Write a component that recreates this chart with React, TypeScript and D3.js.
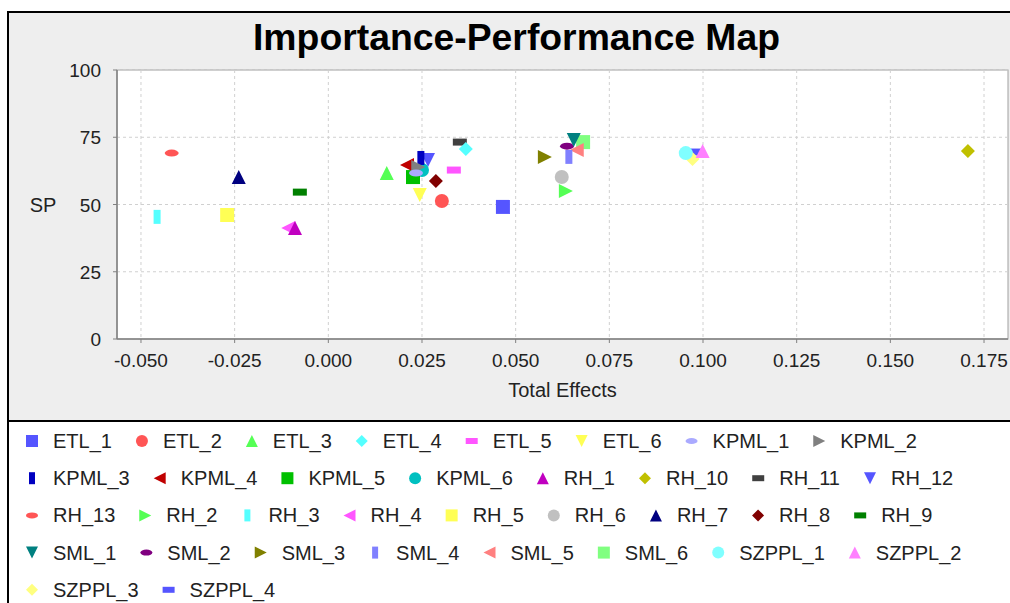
import React, { useMemo } from "react";
import * as d3 from "d3";

const seriesNames = [
  "ETL_1", "ETL_2", "ETL_3", "ETL_4", "ETL_5", "ETL_6",
  "KPML_1", "KPML_2", "KPML_3", "KPML_4", "KPML_5", "KPML_6",
  "RH_1", "RH_10", "RH_11", "RH_12", "RH_13", "RH_2", "RH_3", "RH_4",
  "RH_5", "RH_6", "RH_7", "RH_8", "RH_9",
  "SML_1", "SML_2", "SML_3", "SML_4", "SML_5", "SML_6",
  "SZPPL_1", "SZPPL_2", "SZPPL_3", "SZPPL_4",
];

const totalEffects = [
  0.0466, 0.0303, 0.0156, 0.0367, 0.0335, 0.0244,
  0.0234, 0.024, 0.0247, 0.021, 0.0226, 0.025,
  -0.0089, 0.1707, 0.0351, 0.0266, -0.0418, 0.0634, -0.0457, -0.0107,
  -0.027, 0.0623, -0.0239, 0.0287, -0.0076,
  0.0655, 0.0637, 0.0578, 0.0642, 0.0663, 0.068,
  0.0954, 0.0999, 0.0972, 0.0981,
];

const performance = [
  49.1, 51.3, 61.7, 70.6, 62.8, 53.5,
  61.7, 63.9, 67.3, 64.7, 60.2, 62.8,
  41.3, 69.9, 73.2, 66.5, 69.1, 55.0, 45.4, 41.3,
  46.1, 60.2, 60.2, 58.7, 54.6,
  74.0, 71.7, 67.7, 67.7, 70.3, 73.2,
  69.1, 69.9, 66.9, 69.5,
];

const seriesColors = [
  "#5555FF", "#FF5555", "#55FF55", "#55FFFF", "#FF55FF", "#FFFF55",
  "#AAAAFF", "#808080", "#0000C0", "#C00000", "#00C000", "#00C0C0",
  "#C000C0", "#C0C000", "#404040", "#5555FF", "#FF5555", "#55FF55", "#55FFFF", "#FF55FF",
  "#FFFF55", "#C0C0C0", "#000080", "#800000", "#008000",
  "#008080", "#800080", "#808000", "#8080FF", "#FF8080", "#80FF80",
  "#80FFFF", "#FF80FF", "#FFFF80", "#5555FF",
];

// JFreeChart default shape sequence
const shapeSequence = [
  "square", "circle", "upTriangle", "diamond", "hRect",
  "downTriangle", "hEllipse", "rightTriangle", "vRect", "leftTriangle",
];

const xTicks = [-0.05, -0.025, 0, 0.025, 0.05, 0.075, 0.1, 0.125, 0.15, 0.175];
const yTicks = [0, 25, 50, 75, 100];

const titleText = "Importance-Performance Map";
const xLabel = "Total Effects";
const yLabel = "SP";

function shapePath(type: string, s: number): string {
  const d = s / 2;
  switch (type) {
    case "square":
      return `M${-d},${-d}H${d}V${d}H${-d}Z`;
    case "circle":
      return `M${-d},0A${d},${d} 0 1,0 ${d},0A${d},${d} 0 1,0 ${-d},0Z`;
    case "upTriangle":
      return `M0,${-d}L${d},${d}L${-d},${d}Z`;
    case "diamond":
      return `M0,${-d}L${d},0L0,${d}L${-d},0Z`;
    case "hRect":
      return `M${-d},${-d / 2}H${d}V${d / 2}H${-d}Z`;
    case "downTriangle":
      return `M${-d},${-d}L${d},${-d}L0,${d}Z`;
    case "hEllipse":
      return `M${-d},0A${d},${d / 2} 0 1,0 ${d},0A${d},${d / 2} 0 1,0 ${-d},0Z`;
    case "rightTriangle":
      return `M${-d},${-d}L${d},0L${-d},${d}Z`;
    case "vRect":
      return `M${-d / 2},${-d}H${d / 2}V${d}H${-d / 2}Z`;
    case "leftTriangle":
      return `M${-d},0L${d},${-d}L${d},${d}Z`;
    default:
      return "";
  }
}

const FONT = "'Liberation Sans', Arial, Helvetica, sans-serif";

export default function App() {
  const W = 1010;
  const H = 603;
  const plot = { left: 117, right: 1008, top: 70, bottom: 339 };

  const x = d3
    .scaleLinear()
    .domain([-0.0564, 0.1814])
    .range([plot.left, plot.right]);
  const y = d3.scaleLinear().domain([0, 100]).range([plot.bottom, plot.top]);

  const legendFontSize = 20;
  const legendItems = useMemo(() => {
    const canvas = document.createElement("canvas");
    const ctx = canvas.getContext("2d")!;
    ctx.font = `${legendFontSize}px ${FONT}`;
    const startX = 26;
    const maxX = 1000;
    const rowY0 = 441;
    const rowGap = 37.2;
    let cx = startX;
    let row = 0;
    const items: { i: number; x: number; y: number }[] = [];
    seriesNames.forEach((name, i) => {
      const tw = ctx.measureText(name).width;
      const itemW = 27 + tw;
      if (cx + itemW > maxX && cx !== startX) {
        row += 1;
        cx = startX;
      }
      items.push({ i, x: cx, y: rowY0 + row * rowGap });
      cx += itemW + 24;
    });
    return items;
  }, []);

  // JFreeChart renders series in reverse order: first series ends on top
  const drawOrder = d3.range(seriesNames.length).reverse();

  return (
    <div style={{ position: "absolute", left: 0, top: 0 }}>
      <svg width={W} height={H} style={{ display: "block" }}>
        <rect x={0} y={0} width={W} height={H} fill="#FFFFFF" />
        {/* chart panel */}
        <rect x={8} y={12} width={1030} height={409} fill="#EEEEEE" stroke="#000" strokeWidth={2} />
        {/* legend panel */}
        <rect x={8} y={421} width={1030} height={220} fill="#FFFFFF" stroke="#000" strokeWidth={2} />

        {/* title */}
        <text
          x={516.5}
          y={50}
          textAnchor="middle"
          fontFamily={"'Liberation Sans Narrow', 'Arial Narrow', " + FONT}
          fontWeight="bold"
          fontSize={37}
          textLength={527}
          lengthAdjust="spacingAndGlyphs"
          fill="#000"
        >
          {titleText}
        </text>

        {/* plot area */}
        <rect
          x={plot.left}
          y={plot.top}
          width={plot.right - plot.left}
          height={plot.bottom - plot.top}
          fill="#FFFFFF"
          stroke="#A0A0A0"
          strokeWidth={1}
        />

        {/* gridlines */}
        {xTicks.map((t) => (
          <line
            key={"gx" + t}
            x1={x(t)}
            x2={x(t)}
            y1={plot.top}
            y2={plot.bottom}
            stroke="#D0D0D0"
            strokeWidth={1}
            strokeDasharray="3,3"
          />
        ))}
        {yTicks.map((t) => (
          <line
            key={"gy" + t}
            x1={plot.left}
            x2={plot.right}
            y1={y(t)}
            y2={y(t)}
            stroke="#D0D0D0"
            strokeWidth={1}
            strokeDasharray="3,3"
          />
        ))}

        {/* axes */}
        <line x1={plot.left} x2={plot.left} y1={plot.top} y2={plot.bottom} stroke="#808080" strokeWidth={1.5} />
        <line x1={plot.left} x2={plot.right} y1={plot.bottom} y2={plot.bottom} stroke="#808080" strokeWidth={1.5} />

        {xTicks.map((t) => (
          <g key={"tx" + t}>
            <line x1={x(t)} x2={x(t)} y1={plot.bottom} y2={plot.bottom + 4} stroke="#808080" />
            <text
              x={x(t)}
              y={367}
              textAnchor="middle"
              fontFamily={FONT}
              fontSize={19}
              fill="#222"
            >
              {d3.format(".3f")(t).replace("−", "-")}
            </text>
          </g>
        ))}
        {yTicks.map((t) => (
          <g key={"ty" + t}>
            <line x1={plot.left - 4} x2={plot.left} y1={y(t)} y2={y(t)} stroke="#808080" />
            <text
              x={101}
              y={y(t) + 7}
              textAnchor="end"
              fontFamily={FONT}
              fontSize={19}
              fill="#222"
            >
              {t}
            </text>
          </g>
        ))}

        {/* axis labels */}
        <text x={(plot.left + plot.right) / 2} y={397} textAnchor="middle" fontFamily={FONT} fontSize={20} fill="#222">
          {xLabel}
        </text>
        <text x={43} y={212} textAnchor="middle" fontFamily={FONT} fontSize={20} fill="#222">
          {yLabel}
        </text>

        {/* data points */}
        {drawOrder.map((i) => (
          <path
            key={seriesNames[i]}
            transform={`translate(${x(totalEffects[i])},${y(performance[i])})`}
            d={shapePath(shapeSequence[i % shapeSequence.length], 14)}
            fill={seriesColors[i]}
          />
        ))}

        {/* legend */}
        {legendItems.map(({ i, x: lx, y: ly }) => (
          <g key={"lg" + i}>
            <path
              transform={`translate(${lx + 6},${ly})`}
              d={shapePath(shapeSequence[i % shapeSequence.length], 12)}
              fill={seriesColors[i]}
            />
            <text x={lx + 27} y={ly + 7} fontFamily={FONT} fontSize={legendFontSize} fill="#222">
              {seriesNames[i]}
            </text>
          </g>
        ))}
      </svg>
    </div>
  );
}
